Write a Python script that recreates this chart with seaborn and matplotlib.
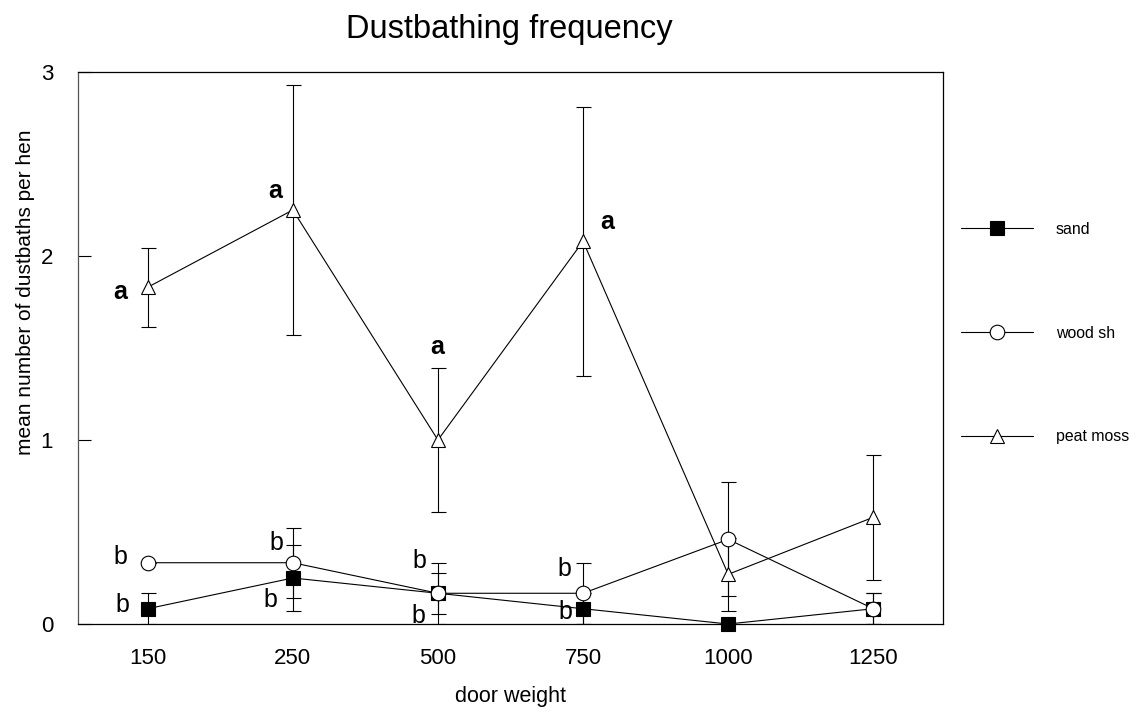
import numpy as np
import pandas as pd
import matplotlib
matplotlib.use("Agg")
import matplotlib.pyplot as plt
import seaborn as sns

# data (mean +/- error per door weight)
door_weights = ["150", "250", "500", "750", "1000", "1250"]
substrates = ["sand", "wood sh", "peat moss"]

sand_mean = [0.083, 0.25, 0.167, 0.083, 0.0, 0.083]
sand_err = [0.083, 0.18, 0.167, 0.083, 0.0, 0.083]
wood_mean = [0.333, 0.333, 0.167, 0.167, 0.46, 0.083]
wood_err = [0.0, 0.19, 0.11, 0.167, 0.31, 0.083]
peat_mean = [1.83, 2.25, 1.0, 2.08, 0.27, 0.58]
peat_err = [0.215, 0.68, 0.39, 0.73, 0.2, 0.34]

# significance letters: substrate, door weight index, letter
letter_series = ["peat moss", "peat moss", "peat moss", "peat moss",
                 "wood sh", "sand", "wood sh", "sand",
                 "wood sh", "sand", "wood sh", "sand"]
letter_index = [0, 1, 2, 3, 0, 0, 1, 1, 2, 2, 3, 3]
letter_text = ["a", "a", "a", "a", "b", "b", "b", "b", "b", "b", "b", "b"]

# offsets of the letters from their point, in pixels (layout only)
letter_dx = [-27, -18, -1, 24, -27, -25, -16, -22, -19, -20, -19, -18]
letter_dy = [-5, 19, 93, 19, 6, 4, 20, -22, 32, -23, 24, -3]

means = {"sand": sand_mean, "wood sh": wood_mean, "peat moss": peat_mean}
errs = {"sand": sand_err, "wood sh": wood_err, "peat moss": peat_err}

rows = []
for name in substrates:
    for i, w in enumerate(door_weights):
        rows.append({"substrate": name, "weight": w, "pos": i,
                     "mean": means[name][i], "err": errs[name][i]})
df = pd.DataFrame(rows)

sns.set_style("ticks")
plt.rcParams["font.family"] = ["Liberation Sans", "DejaVu Sans"]
plt.rcParams["text.color"] = "black"
plt.rcParams["axes.labelcolor"] = "black"
plt.rcParams["xtick.color"] = "black"
plt.rcParams["ytick.color"] = "black"

fig = plt.figure(figsize=(11.41, 7.15), dpi=100)
ax = fig.add_axes([78 / 1141, 1 - 624 / 715, 865 / 1141, 552 / 715])

styles = {
    "sand": dict(marker="s", markerfacecolor="black", markersize=10.5),
    "wood sh": dict(marker="o", markerfacecolor="white", markersize=10.5),
    "peat moss": dict(marker="^", markerfacecolor="white", markersize=10.5),
}

for name in substrates:
    sub = df[df["substrate"] == name]
    ax.errorbar(sub["pos"], sub["mean"], yerr=sub["err"], fmt="none",
                ecolor="black", elinewidth=0.8, capsize=5.4, capthick=0.8,
                zorder=2)
    sns.lineplot(data=sub, x="pos", y="mean", ax=ax, color="black",
                 linewidth=0.8, markeredgecolor="black", markeredgewidth=0.8,
                 errorbar=None, label=name, clip_on=False, zorder=3,
                 **styles[name])

px = 72 / 100
for s, i, t, dx, dy in zip(letter_series, letter_index, letter_text,
                            letter_dx, letter_dy):
    ax.annotate(t, (i, means[s][i]), xytext=(dx * px, dy * px),
                textcoords="offset points", ha="center", va="center",
                fontsize=18, fontweight="bold" if t == "a" else "normal",
                zorder=5)

ax.set_xlim(-0.48, 5.48)
ax.set_ylim(0, 3)
ax.set_xticks(range(len(door_weights)))
ax.set_xticklabels(door_weights)
ax.set_yticks([0, 1, 2, 3])
ax.tick_params(axis="y", direction="in", length=9.4, width=0.8, pad=18,
               labelsize=16)
ax.tick_params(axis="x", length=0, pad=17, labelsize=16)
for sp in ax.spines.values():
    sp.set_linewidth(0.9)
    sp.set_color("black")
ax.spines["left"].set_color("#555555")

ax.set_xlabel("door weight", fontsize=15.5)
ax.xaxis.set_label_coords(0.5, -0.112)
ax.xaxis.label.set_va("top")
ax.set_ylabel("mean number of dustbaths per hen", fontsize=15)
ax.yaxis.set_label_coords(-0.05, 0.601)

fig.text(509 / 1141, 1 - 38 / 715, "Dustbathing frequency", fontsize=23.5,
         ha="center", va="baseline")

handles, labels = ax.get_legend_handles_labels()
ax.legend(handles, labels, loc="upper left",
          bbox_to_anchor=(961 / 1141, 1 - 222 / 715),
          bbox_transform=fig.transFigure, frameon=False, fontsize=11.4,
          handlelength=4.55, handletextpad=1.45, labelspacing=5.6,
          borderpad=0, borderaxespad=0)

fig.savefig("out.png", dpi=100)
